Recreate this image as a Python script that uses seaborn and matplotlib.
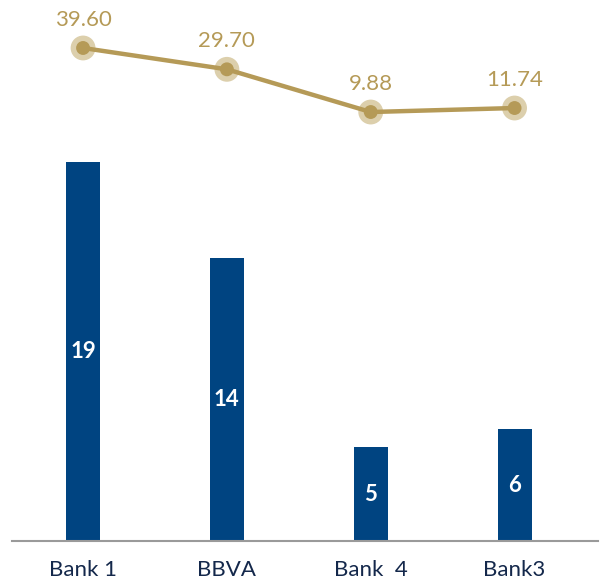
import matplotlib
matplotlib.use("Agg")
import matplotlib.pyplot as plt
import seaborn as sns
import pandas as pd

banks = ["Bank 1", "BBVA", "Bank  4", "Bank3"]
bar_values = [19.0, 14.2, 4.7, 5.6]
bar_labels = ["19", "14", "5", "6"]
line_values = [39.60, 29.70, 9.88, 11.74]
line_labels = ["39.60", "29.70", "9.88", "11.74"]

BLUE = "#004481"
GOLD = "#b59a57"
HALO = "#dccfac"
NAVY = "#14284b"

sns.set_theme(style="white")
plt.rcParams["font.family"] = ["Lato", "DejaVu Sans"]

df = pd.DataFrame({"bank": banks, "bar": bar_values, "line": line_values})

fig = plt.figure(figsize=(6.12, 5.82), dpi=100)
ax = fig.add_axes([12 / 612, (582 - 541) / 582, (598 - 12) / 612, 541 / 582])

sns.barplot(data=df, x="bank", y="bar", color=BLUE, width=0.237, ax=ax,
            saturation=1, edgecolor="none")
ax.set_xlim(-0.494, 3.58)
ax.set_ylim(0, 27.12)
for i, (v, lab) in enumerate(zip(bar_values, bar_labels)):
    ax.text(i, v / 2, lab, ha="center", va="center", color="white",
            fontsize=16, fontweight="bold")

ax2 = ax.twinx()
ax2.set_ylim(-189.2, 61.87)
sns.lineplot(x=list(range(len(banks))), y=line_values, color=GOLD, linewidth=3.2,
             ax=ax2, zorder=3)
ax2.scatter(range(len(banks)), line_values, s=320, color=HALO, zorder=2, edgecolor="none")
ax2.scatter(range(len(banks)), line_values, s=100, color=GOLD, zorder=4, edgecolor="none")
for i, (v, lab) in enumerate(zip(line_values, line_labels)):
    ax2.annotate(lab, (i, v), xytext=(0, 13), textcoords="offset points",
                 ha="center", va="bottom", color=GOLD, fontsize=16, fontweight="normal")

for a in (ax, ax2):
    for s in ["top", "right", "left"]:
        a.spines[s].set_visible(False)
    a.set_yticks([])
    a.set_ylabel("")
ax.spines["bottom"].set_color("#9a9a9a")
ax.spines["bottom"].set_linewidth(1.5)
ax2.spines["bottom"].set_visible(False)
ax.set_xlabel("")
ax.tick_params(axis="x", length=0, pad=14, labelsize=16, labelcolor=NAVY)

fig.savefig("out.png", dpi=100)
